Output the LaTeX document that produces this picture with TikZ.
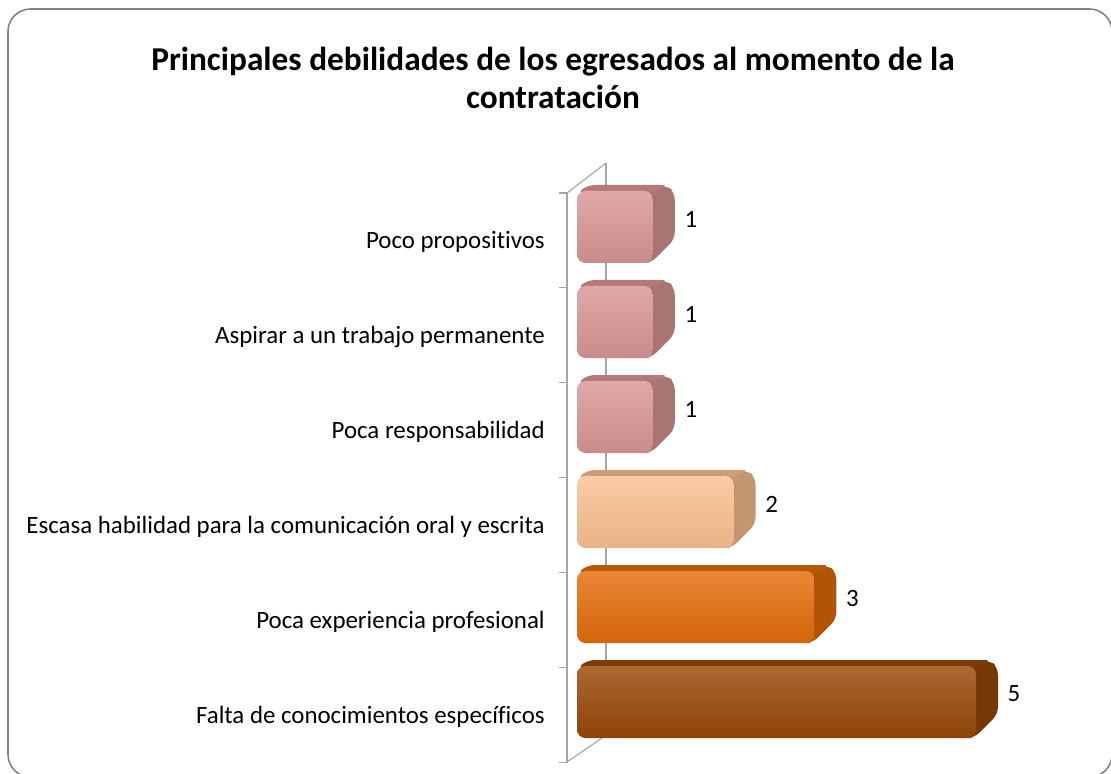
\documentclass[tikz,border=0pt]{standalone}
\usepackage{fontspec}
\setmainfont{Carlito}[Ligatures=NoCommon]
\usepackage{xcolor}
\usepackage{tikz}
\usetikzlibrary{positioning}

\definecolor{barpink}{RGB}{217,150,148}
\definecolor{barpeach}{RGB}{250,192,144}
\definecolor{barorange}{RGB}{228,108,10}
\definecolor{barbrown}{RGB}{152,72,7}
\definecolor{axisgray}{RGB}{165,165,165}
\definecolor{framegray}{RGB}{128,128,128}

\tikzset{
  labeltext/.style={anchor=east, inner sep=0pt, font=\fontsize{17.7}{20}\selectfont},
  valtext/.style={inner sep=0pt, font=\fontsize{17.7}{20}\selectfont},
  titletext/.style={align=center, font=\bfseries\fontsize{23.7}{27}\selectfont}
}

\begin{document}
\begin{tikzpicture}[x=0.025cm, y=-0.025cm]

\useasboundingbox (0,0) rectangle (1111,774);
\clip (0,0) rectangle (1111,774);

% Outer frame of the chart
\draw[framegray, line width=1.1pt, rounded corners=16pt] (8,9) rectangle (1112,777);

% Title
\node[titletext] (title) at (553,78) {Principales debilidades de los egresados al momento de la\\contratación};

% Axis walls (back line first, bars cover it)
\def\axisx{567}
\def\backx{606}
\draw[axisgray, line width=0.8pt] (\backx,163) -- (\backx,738);
\draw[axisgray, line width=0.8pt] (\axisx,193) -- (\backx,163);
\draw[axisgray, line width=0.8pt] (\axisx,762) -- (602,738);
\draw[axisgray, line width=0.8pt] (\axisx,193) -- (\axisx,763);
\foreach \k in {0,1,...,6} {
    \pgfmathsetmacro{\ty}{193 + \k*94.9}
    \draw[axisgray, line width=0.8pt] (559,\ty) -- (\axisx,\ty);
}

% Bars, top to bottom: index/value/colour/label
\foreach \i/\val/\col/\txt in {
    0/1/barpink/Poco propositivos,
    1/1/barpink/Aspirar a un trabajo permanente,
    2/1/barpink/Poca responsabilidad,
    3/2/barpeach/Escasa habilidad para la comunicación oral y escrita,
    4/3/barorange/Poca experiencia profesional,
    5/5/barbrown/Falta de conocimientos específicos} {
    \pgfmathsetmacro{\ytop}{185 + \i*95}
    \pgfmathsetmacro{\ybot}{\ytop + 78}
    \pgfmathsetmacro{\xr}{594 + \val*80.8}
    \pgfmathsetmacro{\xf}{\xr - 24}

    % side face
    \fill[\col!78!black, rounded corners=5pt] (\xf-8,\ytop+6) -- (\xr-8,\ytop) -- (\xr,\ytop+8) -- (\xr,\ybot-24) -- (\xf,\ybot) -- (\xf-8,\ybot) -- cycle;
    % top face
    \fill[\col!82!black, rounded corners=5pt] (577,\ytop+8) -- (588,\ytop) -- (\xr-6,\ytop) -- (\xf,\ytop+8) -- cycle;
    % front face
    \shade[top color=\col!82!white, middle color=\col, bottom color=\col!93!black, rounded corners=6pt] (577,\ytop+6) rectangle (\xf+2,\ybot);

    \node[labeltext] (lbl\i) at (545, 242+\i*95) {\txt};
    \node[valtext] (val\i) at (\xr+16, \ytop+34) {\val};
}

\end{tikzpicture}
\end{document}
